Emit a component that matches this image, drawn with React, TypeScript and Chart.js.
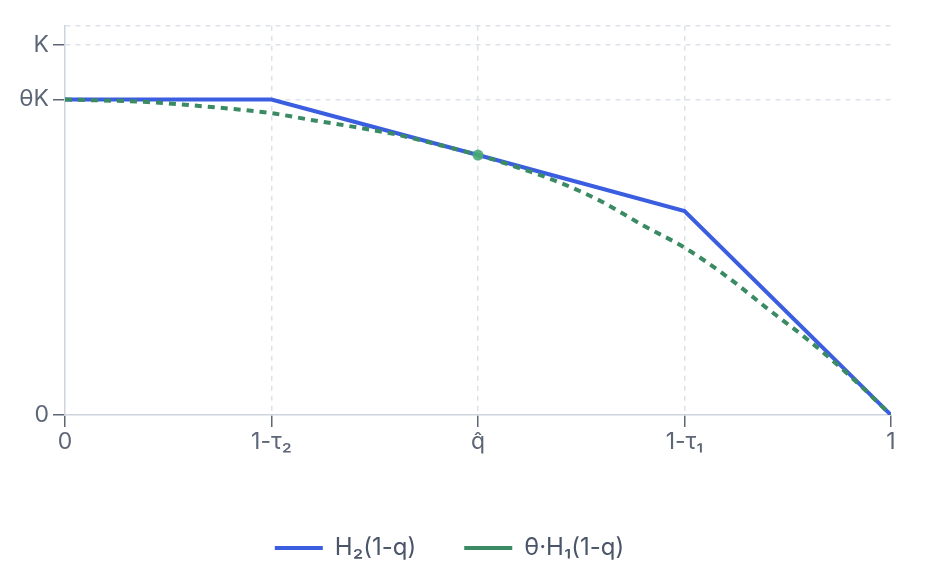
import React, { useEffect, useRef } from 'react';
import { Chart, registerables } from 'chart.js';

Chart.register(...registerables);

const THETA_K = 0.852;
const K = 1;
const Y_MAX = 1.051;

const xTickValues = [0, 0.25, 0.5, 0.75, 1];
const xTickLabels = ['0', '1-τ₂', 'q̂', '1-τ₁', '1'];
const yTickValues = [0, THETA_K, K, Y_MAX];
const yTickLabels = ['0', 'θK', 'K', ''];

const h2X = [0, 0.25, 0.5, 0.75, 1];
const h2Y = [0.852, 0.852, 0.702, 0.551, 0];

const h1X = [0, 0.1, 0.2, 0.25, 0.3, 0.35, 0.4, 0.45, 0.5, 0.55, 0.6, 0.65, 0.7, 0.75, 0.8, 0.85, 0.9, 0.95, 1];
const h1Y = [0.852, 0.845, 0.827, 0.815, 0.796, 0.778, 0.758, 0.731, 0.702, 0.667, 0.627, 0.576, 0.512, 0.452, 0.376, 0.288, 0.202, 0.106, 0];

const qHatX = [0.5];
const qHatY = [0.702];

const seriesNames = ['H₂(1-q)', 'θ·H₁(1-q)'];

const BLUE = '#3b5ee0';
const GREEN = '#3a8a63';
const GRID = '#dde2ea';
const AXIS = '#cdd4de';
const TICK = '#5d6676';
const TEXT = '#5d6676';
const FONT = 'Inter, "Noto Sans", sans-serif';
const PLOT_BOTTOM = 407;

export default function App() {
  const ref = useRef<HTMLCanvasElement | null>(null);

  useEffect(() => {
    if (!ref.current) return;
    const chart = new Chart(ref.current, {
      type: 'line',
      data: {
        datasets: [
          {
            label: seriesNames[0],
            data: h2X.map((x, i) => ({ x, y: h2Y[i] })),
            borderColor: BLUE,
            backgroundColor: BLUE,
            borderWidth: 4,
            pointRadius: 0,
            tension: 0,
            order: 2,
          },
          {
            label: seriesNames[1],
            data: h1X.map((x, i) => ({ x, y: h1Y[i] })),
            borderColor: GREEN,
            backgroundColor: GREEN,
            borderWidth: 4,
            borderDash: [7, 6],
            pointRadius: 0,
            cubicInterpolationMode: 'monotone',
            order: 1,
          },
          {
            label: 'qhat',
            type: 'scatter',
            data: qHatX.map((x, i) => ({ x, y: qHatY[i] })),
            borderColor: 'rgba(72,168,118,0.9)',
            backgroundColor: 'rgba(72,168,118,0.9)',
            pointRadius: 5.5,
            borderWidth: 0,
            order: 0,
          } as any,
        ],
      },
      options: {
        animation: false,
        responsive: true,
        maintainAspectRatio: false,
        layout: { padding: { top: 16, right: 49, left: 0, bottom: 0 } },
        plugins: {
          tooltip: { enabled: false },
          legend: {
            position: 'bottom',
            labels: {
              color: '#4a5568',
              font: { family: FONT, size: 24 },
              boxWidth: 48,
              boxHeight: 4,
              padding: 48,
              filter: (item: any) => item.datasetIndex !== 2,
              sort: (a: any, b: any) => a.datasetIndex - b.datasetIndex,
              generateLabels: (chart: any) => {
                const items = Chart.defaults.plugins.legend.labels.generateLabels(chart);
                return items.map((it: any) => ({
                  ...it,
                  fillStyle: it.strokeStyle,
                  lineWidth: 0,
                  lineDash: [],
                }));
              },
            },
          },
        },
        scales: {
          x: {
            type: 'linear',
            min: 0,
            max: 1,
            afterBuildTicks: (scale: any) => {
              scale.ticks = xTickValues.map((v) => ({ value: v }));
            },
            afterFit: (scale: any) => {
              const lg = scale.chart.legend;
              const lh = lg && lg.height ? lg.height : 83;
              scale.height = scale.chart.height - lh - PLOT_BOTTOM;
            },
            ticks: {
              color: TEXT,
              font: { family: FONT, size: 23 },
              padding: 1,
              maxRotation: 0,
              autoSkip: false,
              callback: (v: any) => {
                const i = xTickValues.indexOf(Number(v));
                return i >= 0 ? xTickLabels[i] : '';
              },
            },
            grid: {
              color: (ctx: any) => {
                const v = ctx.tick ? ctx.tick.value : null;
                return v === 0 || v === 1 ? 'rgba(0,0,0,0)' : GRID;
              },
              lineWidth: 1.5,
              tickColor: TICK,
              tickLength: 12,
              tickWidth: 1.5,
              tickBorderDash: [],
            } as any,
            border: { color: AXIS, width: 1.5, dash: [5, 5] } as any,
          },
          y: {
            type: 'linear',
            min: 0,
            max: Y_MAX,
            afterBuildTicks: (scale: any) => {
              scale.ticks = yTickValues.map((v) => ({ value: v }));
            },
            afterFit: (scale: any) => {
              scale.width = 57;
            },
            ticks: {
              color: TEXT,
              font: { family: FONT, size: 23 },
              padding: 4,
              autoSkip: false,
              callback: (v: any) => {
                const i = yTickValues.indexOf(Number(v));
                return i >= 0 ? yTickLabels[i] : '';
              },
            },
            grid: {
              color: (ctx: any) => {
                const v = ctx.tick ? ctx.tick.value : null;
                return v === 0 ? 'rgba(0,0,0,0)' : GRID;
              },
              lineWidth: 1.5,
              tickColor: (ctx: any) => {
                const v = ctx.tick ? ctx.tick.value : null;
                return v === Y_MAX ? 'rgba(0,0,0,0)' : TICK;
              },
              tickLength: 12,
              tickWidth: 1.5,
              tickBorderDash: [],
            } as any,
            border: { color: AXIS, width: 1.5, dash: [5, 5] } as any,
          },
        },
      } as any,
    });
    return () => chart.destroy();
  }, []);

  return (
    <div style={{ width: '100%', height: 562, position: 'relative', marginBottom: -8 }}>
      <canvas ref={ref} />
    </div>
  );
}
